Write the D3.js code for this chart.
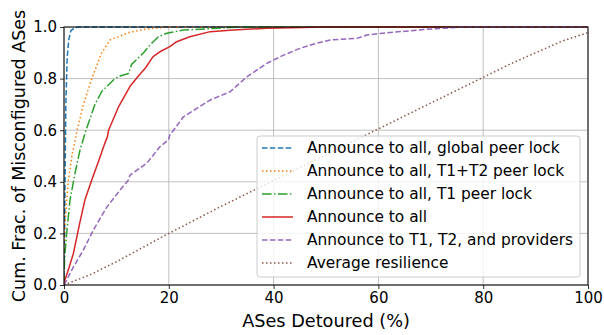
<!DOCTYPE html>
<html><head><meta charset="utf-8">
<script src="https://cdn.jsdelivr.net/npm/d3@7"></script>
<style>body{margin:0;background:#fff}svg{display:block;font-family:"DejaVu Sans",sans-serif}</style>
</head><body><svg id="c" width="604" height="335"></svg>
<script>
const xTicks = [0, 20, 40, 60, 80, 100];
const yTicks = [0.0, 0.2, 0.4, 0.6, 0.8, 1.0];
const seriesNames = ["Announce to all, global peer lock","Announce to all, T1+T2 peer lock","Announce to all, T1 peer lock","Announce to all","Announce to T1, T2, and providers","Average resilience"];
const globalPeerLock = [[0,0],[0.15,0.3],[0.35,0.7],[0.6,0.88],[0.9,0.95],[1.3,0.985],[2,0.997],[3,1.0],[100,1.0]];
const t1t2PeerLock = [[0,0],[0.1,0.2],[0.3,0.27],[0.8,0.4],[1.5,0.5],[2.5,0.6],[3.7,0.7],[5.3,0.8],[7.2,0.9],[8.8,0.95],[12.6,0.98],[16,0.993],[20,1.0],[100,1.0]];
const t1PeerLock = [[0,0],[0.1,0.1],[0.5,0.2],[1.15,0.33],[2.1,0.433],[3.05,0.523],[4.2,0.6],[5.9,0.7],[7.2,0.75],[9.7,0.8],[10.7,0.81],[12.3,0.82],[12.9,0.855],[15.1,0.898],[16.4,0.93],[18,0.962],[19.6,0.976],[22.8,0.988],[31.7,0.998],[35,1.0],[100,1.0]];
const announceAll = [[0,0],[0.2,0.02],[1,0.07],[1.8,0.123],[3,0.24],[4,0.33],[5.3,0.407],[6.9,0.497],[7.8,0.55],[8.3,0.575],[8.5,0.6],[10.4,0.69],[12.6,0.77],[14.2,0.81],[15.5,0.84],[17,0.885],[18.3,0.904],[20.2,0.924],[21.5,0.943],[24,0.962],[27.9,0.982],[32.3,0.988],[38.7,0.995],[50,1.0],[100,1.0]];
const t1t2Providers = [[0,0],[0.2,0.007],[1.8,0.07],[3.7,0.136],[5.6,0.213],[8.1,0.3],[10.7,0.368],[12.3,0.407],[12.6,0.426],[15.8,0.472],[18.3,0.536],[19.9,0.562],[20.2,0.581],[22.8,0.652],[27.9,0.717],[31.7,0.749],[34.9,0.807],[38.7,0.859],[41.9,0.891],[45,0.917],[48.2,0.937],[50.8,0.95],[55.9,0.956],[57.8,0.969],[60.9,0.976],[68.6,0.99],[73.7,0.997],[76,1.0],[100,1.0]];
const avgResilience = [[0,0],[5,0.04],[10,0.09],[20,0.2],[30,0.305],[40,0.405],[50,0.505],[60,0.605],[70,0.705],[80,0.805],[85,0.855],[90,0.9],[95,0.945],[100,0.978]];
const seriesData = [globalPeerLock, t1t2PeerLock, t1PeerLock, announceAll, t1t2Providers, avgResilience];
const colors = ["#1f77b4","#ff7f0e","#2ca02c","#d62728","#9467bd","#8c564b"];
const dashes = ["5.5,2.4","1.5,2.5","9.6,2.4,1.5,2.4",null,"5.5,2.4","1.5,2.5"];

const svg = d3.select("#c");
const L=64,R=588,T=27,B=285;
const x = d3.scaleLinear().domain([0,100]).range([L,R]);
const y = d3.scaleLinear().domain([0,1]).range([B,T]);

// grid
const g = svg.append("g");
g.selectAll("line.gx").data(xTicks).join("line").attr("x1",d=>x(d)).attr("x2",d=>x(d)).attr("y1",T).attr("y2",B).attr("stroke","#b0b0b0").attr("stroke-width",0.8);
g.selectAll("line.gy").data(yTicks).join("line").attr("y1",d=>y(d)).attr("y2",d=>y(d)).attr("x1",L).attr("x2",R).attr("stroke","#b0b0b0").attr("stroke-width",0.8);

// lines
svg.append("clipPath").attr("id","pc").append("rect").attr("x",L).attr("y",T-2).attr("width",R-L).attr("height",B-T+4);
const line = d3.line().x(d=>x(d[0])).y(d=>y(d[1]));
const lg = svg.append("g").attr("clip-path","url(#pc)");
seriesData.forEach((s,i)=>{
  lg.append("path").attr("d",line(s)).attr("fill","none").attr("stroke",colors[i]).attr("stroke-width",1.5)
    .attr("stroke-dasharray",dashes[i]).attr("stroke-linejoin","round");
});

// axes
const xAxis = d3.axisBottom(x).tickValues(xTicks).tickSize(4).tickPadding(3).tickFormat(d3.format("d"));
const yAxis = d3.axisLeft(y).tickValues(yTicks).tickSize(4).tickPadding(3).tickFormat(d3.format(".1f"));
const xa = svg.append("g").attr("transform",`translate(0,${B})`).call(xAxis);
const ya = svg.append("g").attr("transform",`translate(${L},0)`).call(yAxis);
[xa,ya].forEach(a=>{a.select(".domain").remove();a.selectAll("text").attr("font-size",15).attr("fill","#000").attr("font-family","DejaVu Sans");a.selectAll("line").attr("stroke","#000").attr("stroke-width",0.8);});
xa.selectAll("text").attr("dy","0.75em");
// frame
svg.append("rect").attr("x",L).attr("y",T).attr("width",R-L).attr("height",B-T).attr("fill","none").attr("stroke","#000").attr("stroke-width",1);

// axis labels
svg.append("text").attr("x",(L+R)/2).attr("y",327).attr("text-anchor","middle").attr("font-size",17.7).text("ASes Detoured (%)");
svg.append("text").attr("transform",`translate(25,${(T+B)/2}) rotate(-90)`).attr("text-anchor","middle").attr("font-size",17.5).text("Cum. Frac. of Misconfigured ASes");

// legend
const leg = svg.append("g");
leg.append("rect").attr("x",257).attr("y",136).attr("width",323).attr("height",141).attr("rx",3).attr("fill","#fff").attr("fill-opacity",0.8).attr("stroke","#cccccc").attr("stroke-width",1);
seriesNames.forEach((n,i)=>{
  const yy = 148 + i*23;
  leg.append("line").attr("x1",262).attr("x2",293).attr("y1",yy).attr("y2",yy).attr("stroke",colors[i]).attr("stroke-width",1.5).attr("stroke-dasharray",dashes[i]);
  leg.append("text").attr("x",307).attr("y",yy).attr("dy","0.35em").attr("font-size",15.4).text(n);
});
</script></body></html>
